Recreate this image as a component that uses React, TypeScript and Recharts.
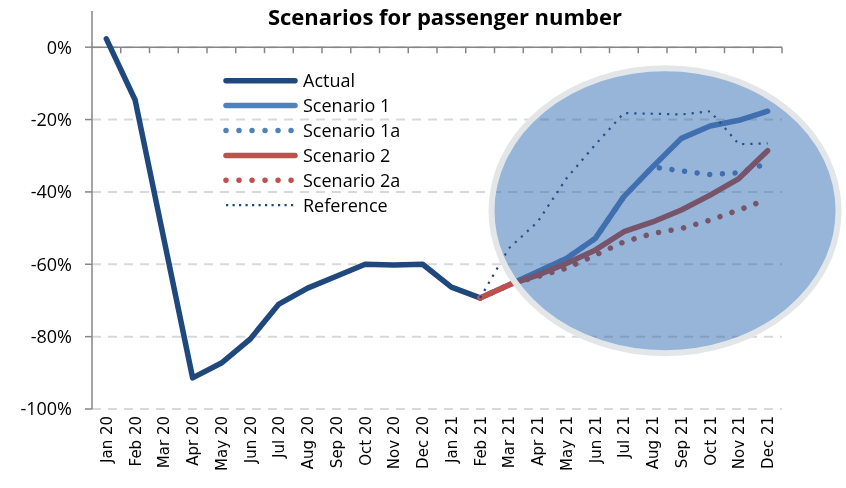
import React from 'react'
import {
  ComposedChart,
  Line,
  XAxis,
  YAxis,
  CartesianGrid,
  ReferenceLine,
  ReferenceDot,
} from 'recharts'

// data, % change vs. pre-pandemic
const months = [
  'Jan 20', 'Feb 20', 'Mar 20', 'Apr 20', 'May 20', 'Jun 20', 'Jul 20', 'Aug 20',
  'Sep 20', 'Oct 20', 'Nov 20', 'Dec 20', 'Jan 21', 'Feb 21', 'Mar 21', 'Apr 21',
  'May 21', 'Jun 21', 'Jul 21', 'Aug 21', 'Sep 21', 'Oct 21', 'Nov 21', 'Dec 21',
]
const N = null
const actual = [2.3, -14.6, -53.0, -91.4, -87.3, -80.7, -71.0, -66.6, -63.3, -60.0, -60.2, -60.0, -66.3, -69.3, N, N, N, N, N, N, N, N, N, N]
const scenario1 = [N, N, N, N, N, N, N, N, N, N, N, N, N, -69.3, -65.7, -62.1, -58.4, -52.9, -41.3, -33.1, -25.2, -21.8, -20.2, -17.7]
const scenario1a = [N, N, N, N, N, N, N, N, N, N, N, N, N, -69.3, -65.7, -62.1, -58.4, -52.9, -41.3, -33.1, -34.2, -35.2, -34.7, -32.1]
const scenario2 = [N, N, N, N, N, N, N, N, N, N, N, N, N, -69.3, -65.7, -63.0, -59.8, -56.1, -51.0, -48.3, -45.0, -40.9, -36.3, -28.6]
const scenario2a = [N, N, N, N, N, N, N, N, N, N, N, N, N, -69.3, -65.7, -63.4, -61.1, -57.5, -53.8, -51.5, -50.1, -47.8, -45.0, -42.0]
const reference = [N, N, N, N, N, N, N, N, N, N, N, N, N, -69.3, -55.6, -48.3, -36.3, -27.0, -18.2, -18.4, -18.6, -17.7, -26.8, -26.6]
const yTicks = [-100, -80, -60, -40, -20, 0]
const highlight = { month: 'Aug 21', value: -45.2 }

const data = months.map((month, i) => ({
  month,
  actual: actual[i],
  s1: scenario1[i],
  s1a: scenario1a[i],
  s2: scenario2[i],
  s2a: scenario2a[i],
  ref: reference[i],
}))

// layout
const W = 846
const H = 488
const M = { top: 11, right: 64, bottom: 0, left: 0 }
const Y_AXIS_W = 92
const X_AXIS_H = 79
const PLOT_W = W - M.left - M.right - Y_AXIS_W
const PLOT_H = H - M.top - M.bottom - X_AXIS_H
const BAND = PLOT_W / months.length
const ZERO_Y = M.top + (PLOT_H * 10) / 110
const PLOT_BOTTOM = M.top + PLOT_H

const FONT = "'Open Sans', 'Liberation Sans', sans-serif"
const AXIS_GREY = '#868686'
const NAVY = '#1F497D'
const BLUE = '#4F81BD'
const RED = '#C0504D'

const legendItems = [
  { label: 'Actual', color: NAVY, width: 5.5, dash: undefined, cap: 'round' },
  { label: 'Scenario 1', color: BLUE, width: 5.5, dash: undefined, cap: 'round' },
  { label: 'Scenario 1a', color: BLUE, width: 5.5, dash: '0.01 13', cap: 'round' },
  { label: 'Scenario 2', color: RED, width: 5.5, dash: undefined, cap: 'round' },
  { label: 'Scenario 2a', color: RED, width: 5.5, dash: '0.01 13', cap: 'round' },
  { label: 'Reference', color: NAVY, width: 2.2, dash: '2.2 4.3', cap: 'butt' },
]

function MonthTick(props: any) {
  const { x, payload } = props
  const tx = x + BAND / 2
  const ly = PLOT_BOTTOM + 7
  return (
    <g>
      <line x1={tx} x2={tx} y1={ZERO_Y} y2={ZERO_Y + 6} stroke={AXIS_GREY} strokeWidth={1.5} />
      <text
        x={x}
        y={ly}
        transform={`rotate(-90 ${x} ${ly})`}
        textAnchor="end"
        dy="0.36em"
        fontSize={15}
        fontFamily="'DejaVu Sans', sans-serif"
        fill="#000"
      >
        {payload.value}
      </text>
    </g>
  )
}

// the "magnifier" highlighting the forecast period
function Magnifier(props: any) {
  const { cx, cy } = props
  const ex = cx + 12.4
  return (
    <g>
      <ellipse cx={ex} cy={cy} rx={173.5} ry={142.5} fill="#C2DBF6" style={{ mixBlendMode: 'multiply' }} />
      <ellipse cx={ex} cy={cy} rx={173.5} ry={142.5} fill="#446FA2" fillOpacity={0.35} />
      <ellipse cx={ex} cy={cy} rx={173.5} ry={142.5} fill="none" stroke="#E3E6E8" strokeWidth={6} />
    </g>
  )
}

export default function App() {
  const lineProps = {
    type: 'linear' as const,
    dot: false,
    activeDot: false,
    isAnimationActive: false,
    strokeLinejoin: 'round' as const,
  }

  return (
    <div style={{ position: 'fixed', left: 0, top: 0, width: W, height: H, background: '#fff' }}>
      <ComposedChart width={W} height={H} data={data} margin={M}>
        <CartesianGrid
          vertical={false}
          horizontalValues={yTicks}
          stroke="#D9D9D9"
          strokeWidth={2}
          strokeDasharray="9 7"
        />
        <XAxis
          dataKey="month"
          scale="band"
          height={X_AXIS_H}
          axisLine={false}
          tickLine={false}
          interval={0}
          tick={<MonthTick />}
        />
        <YAxis
          width={Y_AXIS_W}
          domain={[-100, 10]}
          ticks={yTicks}
          allowDataOverflow
          axisLine={{ stroke: AXIS_GREY, strokeWidth: 1.5 }}
          tickLine={{ stroke: AXIS_GREY, strokeWidth: 1.5 }}
          tickSize={7}
          tickMargin={13}
          tick={{ fill: '#000', fontSize: 18, fontFamily: FONT }}
          tickFormatter={(v: number) => `${v}%`}
        />
        <ReferenceLine y={0} stroke={AXIS_GREY} strokeWidth={1.5} />
        <Line {...lineProps} dataKey="actual" stroke={NAVY} strokeWidth={5.5} strokeLinecap="round" />
        <Line {...lineProps} dataKey="s1a" stroke={BLUE} strokeWidth={5.5} strokeDasharray="0.01 12.7" strokeLinecap="round" />
        <Line {...lineProps} dataKey="s1" stroke={BLUE} strokeWidth={5.5} strokeLinecap="round" />
        <Line {...lineProps} dataKey="s2a" stroke={RED} strokeWidth={5.5} strokeDasharray="0.01 12.7" strokeLinecap="round" />
        <Line {...lineProps} dataKey="s2" stroke={RED} strokeWidth={5.5} strokeLinecap="round" />
        <Line {...lineProps} dataKey="ref" stroke={NAVY} strokeWidth={2.2} strokeDasharray="2.2 6" />
        <ReferenceDot
          x={highlight.month}
          y={highlight.value}
          ifOverflow="visible"
          shape={<Magnifier />}
          {...({ zIndex: 1000 } as any)}
        />
      </ComposedChart>

      <svg width={W} height={H} style={{ position: 'absolute', left: 0, top: 0, pointerEvents: 'none' }}>
        <text x={445} y={25} textAnchor="middle" fontFamily={FONT} fontWeight="bold" fontSize={22} fill="#000">
          Scenarios for passenger number
        </text>
        {legendItems.map((item, i) => {
          const y = 80.7 + i * 24.9
          return (
            <g key={item.label}>
              <line
                x1={226}
                x2={295}
                y1={y}
                y2={y}
                stroke={item.color}
                strokeWidth={item.width}
                strokeDasharray={item.dash}
                strokeLinecap={item.cap as any}
              />
              <text x={303} y={y} dy="0.36em" fontFamily={FONT} fontSize={18} fill="#000">
                {item.label}
              </text>
            </g>
          )
        })}
      </svg>
    </div>
  )
}
